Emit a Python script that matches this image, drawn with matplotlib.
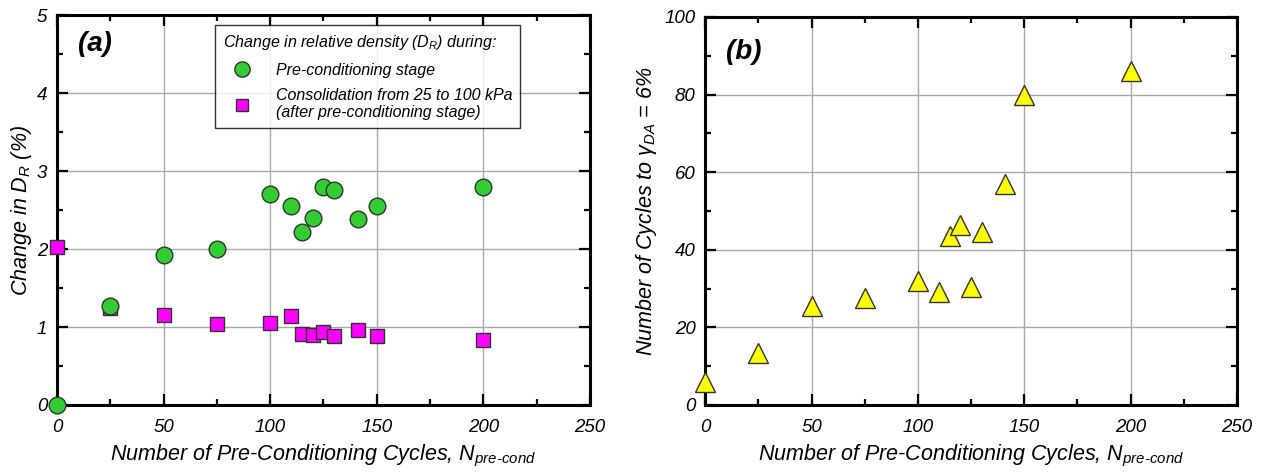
import matplotlib
matplotlib.use("Agg")
import matplotlib.pyplot as plt
from matplotlib.ticker import MultipleLocator
from matplotlib.lines import Line2D

plt.rcParams['font.family'] = ['Liberation Sans', 'DejaVu Sans']
plt.rcParams['mathtext.fontset'] = 'custom'
plt.rcParams['mathtext.rm'] = 'Liberation Sans:italic'
plt.rcParams['mathtext.it'] = 'Liberation Sans:italic'
plt.rcParams['mathtext.bf'] = 'Liberation Sans:bold:italic'

# Panel (a) data
n_precond_a = [0, 25, 50, 75, 100, 110, 115, 120, 125, 130, 141, 150, 200]
dr_precond = [0.0, 1.27, 1.92, 2.0, 2.71, 2.55, 2.22, 2.40, 2.79, 2.76, 2.39, 2.55, 2.79]
dr_consol = [2.03, 1.25, 1.15, 1.04, 1.05, 1.14, 0.91, 0.90, 0.94, 0.88, 0.96, 0.885, 0.83]

# Panel (b) data
n_precond_b = [0, 25, 50, 75, 100, 110, 115, 120, 125, 130, 141, 150, 200]
cycles_to_6 = [6, 13.5, 25.5, 27.5, 32, 29, 43.5, 46.5, 30.5, 44.5, 57, 80, 86]

fig = plt.figure(figsize=(12.66, 4.72), dpi=100)
axa = fig.add_axes([0.045, 0.142, 0.421, 0.826])
axb = fig.add_axes([0.557, 0.142, 0.420, 0.822])

label_fs = 15.5

def style_axes(ax, xmaj, xmin, ymaj, ymin):
    ax.xaxis.set_major_locator(MultipleLocator(xmaj))
    ax.xaxis.set_minor_locator(MultipleLocator(xmin))
    ax.yaxis.set_major_locator(MultipleLocator(ymaj))
    ax.yaxis.set_minor_locator(MultipleLocator(ymin))
    ax.grid(True, which='major', color='#a8a8a8', linewidth=1.0)
    ax.set_axisbelow(True)
    for s in ax.spines.values():
        s.set_linewidth(2.2)
        s.set_color('black')
    ax.tick_params(which='both', direction='in', top=True, right=True, width=1.6)
    ax.tick_params(which='major', length=8, pad=7)
    ax.tick_params(axis='x', which='major', pad=10)
    ax.tick_params(which='minor', length=4)
    for lab in ax.get_xticklabels() + ax.get_yticklabels():
        lab.set_fontstyle('italic')
        lab.set_fontsize(13.5)

# Panel (a)
axa.set_xlim(0, 250)
axa.set_ylim(0, 5)
style_axes(axa, 50, 25, 1, 0.5)
axa.plot(n_precond_a, dr_consol, linestyle='none', marker='s', markersize=10,
         markerfacecolor='#ff00ff', markeredgecolor='#333333', markeredgewidth=1.0,
         clip_on=False, zorder=3)
axa.plot(n_precond_a, dr_precond, linestyle='none', marker='o', markersize=12,
         markerfacecolor='#33cc33', markeredgecolor='#333333', markeredgewidth=1.0,
         clip_on=False, zorder=4)
axa.set_xlabel('Number of Pre-Conditioning Cycles, $N_{pre\u2010cond}$', fontsize=label_fs,
               style='italic', labelpad=5)
axa.set_ylabel('Change in $D_R$ (%)', fontsize=label_fs, style='italic', labelpad=2)
axa.text(0.039, 0.925, '(a)', transform=axa.transAxes, fontsize=20, fontweight='bold',
         style='italic', va='center', ha='left')

handles = [
    Line2D([], [], linestyle='none', marker='o', markersize=11, markerfacecolor='#33cc33',
           markeredgecolor='#333333', markeredgewidth=1.0),
    Line2D([], [], linestyle='none', marker='s', markersize=8.5, markerfacecolor='#ff00ff',
           markeredgecolor='#333333', markeredgewidth=1.0),
]
leg = axa.legend(handles, ['Pre-conditioning stage',
                           'Consolidation from 25 to 100 kPa\n(after pre-conditioning stage)'],
                 title='Change in relative density ($D_R$) during:',
                 loc='upper right', bbox_to_anchor=(0.869, 0.974), frameon=True, fancybox=False,
                 edgecolor='black', prop=dict(size=11.5, style='italic'),
                 title_fontproperties=dict(size=11.5, style='italic'),
                 handlelength=2.4, handletextpad=0.9, borderpad=0.5, labelspacing=0.65,
                 borderaxespad=0, alignment='left')
leg.get_frame().set_linewidth(1.0)

# Panel (b)
axb.set_xlim(0, 250)
axb.set_ylim(0, 100)
style_axes(axb, 50, 25, 20, 10)
axb.plot(n_precond_b, cycles_to_6, linestyle='none', marker='^', markersize=14,
         markerfacecolor='#ffff00', markeredgecolor='#333333', markeredgewidth=1.0,
         clip_on=False, zorder=3)
axb.set_xlabel('Number of Pre-Conditioning Cycles, $N_{pre\u2010cond}$', fontsize=label_fs,
               style='italic', labelpad=5)
axb.set_ylabel('Number of Cycles to $\\gamma_{DA}$ = 6%', fontsize=label_fs, style='italic',
               labelpad=4)
axb.text(0.039, 0.91, '(b)', transform=axb.transAxes, fontsize=20, fontweight='bold',
         style='italic', va='center', ha='left')

fig.savefig('out.png', dpi=100)
